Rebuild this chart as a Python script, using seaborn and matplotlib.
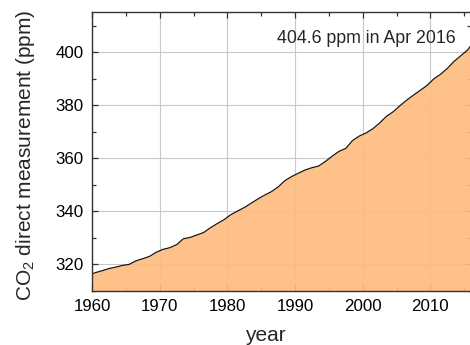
import matplotlib
matplotlib.use("Agg")
import matplotlib.pyplot as plt
import seaborn as sns
import numpy as np
import pandas as pd
from matplotlib.ticker import MultipleLocator

years = [1958.5, 1959.5, 1960.5, 1961.5, 1962.5, 1963.5, 1964.5, 1965.5, 1966.5, 1967.5,
         1968.5, 1969.5, 1970.5, 1971.5, 1972.5, 1973.5, 1974.5, 1975.5, 1976.5, 1977.5,
         1978.5, 1979.5, 1980.5, 1981.5, 1982.5, 1983.5, 1984.5, 1985.5, 1986.5, 1987.5,
         1988.5, 1989.5, 1990.5, 1991.5, 1992.5, 1993.5, 1994.5, 1995.5, 1996.5, 1997.5,
         1998.5, 1999.5, 2000.5, 2001.5, 2002.5, 2003.5, 2004.5, 2005.5, 2006.5, 2007.5,
         2008.5, 2009.5, 2010.5, 2011.5, 2012.5, 2013.5, 2014.5, 2015.5, 2016.3]
co2_ppm = [315.3, 315.97, 316.91, 317.64, 318.45, 318.99, 319.62, 320.04, 321.38, 322.16,
           323.04, 324.62, 325.68, 326.32, 327.45, 329.68, 330.18, 331.11, 332.04, 333.83,
           335.40, 336.84, 338.75, 340.11, 341.45, 343.05, 344.65, 346.12, 347.42, 349.19,
           351.57, 353.12, 354.39, 355.61, 356.45, 357.10, 358.83, 360.82, 362.61, 363.73,
           366.70, 368.38, 369.55, 371.14, 373.28, 375.80, 377.52, 379.80, 381.90, 383.79,
           385.60, 387.43, 389.90, 391.65, 393.85, 396.52, 398.65, 400.83, 403.6]
x_ticks = [1960, 1970, 1980, 1990, 2000, 2010]
y_ticks = [320, 340, 360, 380, 400]
annotation = "404.6 ppm in Apr 2016"

df = pd.DataFrame({"year": years, "co2": co2_ppm})

sns.set_style("ticks")
plt.rcParams["font.family"] = ["Liberation Sans", "DejaVu Sans"]
plt.rcParams["mathtext.fontset"] = "custom"
plt.rcParams["mathtext.rm"] = "Liberation Sans"
plt.rcParams["mathtext.it"] = "Liberation Sans"

fig = plt.figure(figsize=(4.7, 3.45), dpi=100)
L, R, T, B = 92, 471, 12.3, 291
ax = fig.add_axes([L / 470, (345 - B) / 345, (R - L) / 470, (B - T) / 345])

ax.grid(True, which="major", color="#c8c8c8", linewidth=0.8, zorder=0.5)
ax.set_axisbelow(True)
ax.fill_between(df["year"], df["co2"], 300, color=(1.0, 187 / 255, 125 / 255),
                alpha=0.9, linewidth=0, zorder=1)
sns.lineplot(data=df, x="year", y="co2", ax=ax, color="#1a1410", linewidth=0.9, zorder=3)

ax.set_xlim(1960, 2016)
ax.set_ylim(310, 415)
ax.set_xticks(x_ticks)
ax.set_yticks(y_ticks)
ax.xaxis.set_minor_locator(MultipleLocator(5))
ax.yaxis.set_minor_locator(MultipleLocator(10))
ax.tick_params(which="both", direction="in", top=True, right=True, colors="#333333",
               labelcolor="black", labelsize=12.2)
ax.tick_params(which="major", length=4.5, width=0.9, pad=6)
ax.tick_params(which="minor", length=2.8, width=0.9)
for sp in ax.spines.values():
    sp.set_color("#333333")
    sp.set_linewidth(1.0)
    sp.set_zorder(5)

ax.set_xlabel("year", fontsize=15)
ax.set_ylabel(r"CO$_{2}$ direct measurement (ppm)", fontsize=15)
ax.xaxis.set_label_coords((265 - L) / (R - L), -0.125)
ax.yaxis.set_label_coords((37 - L) / (R - L), 0.487)

ax.text(2013.8, 405.1, annotation, ha="right", va="center", fontsize=12.8, zorder=6)

fig.savefig("out.png", dpi=100)
